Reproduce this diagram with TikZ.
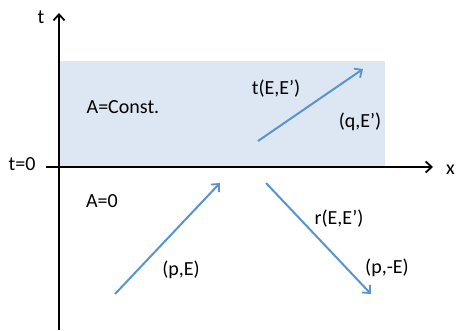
\documentclass[tikz,border=0pt]{standalone}
\usepackage{fontspec}
\setmainfont{Carlito}
\usetikzlibrary{arrows.meta}
\definecolor{arrblue}{RGB}{88,148,208}
\definecolor{bgblue}{RGB}{221,231,243}
\begin{document}
\begin{tikzpicture}[x=1pt,y=-1pt,
  axis/.style={line width=2pt,-{Straight Barb[length=6pt,width=11pt,line width=1.8pt]}},
  wave/.style={line width=2pt,arrblue,-{Straight Barb[length=6pt,width=11pt,line width=1.8pt]}},
  lbl/.style={font=\fontsize{20}{24}\selectfont,inner sep=0pt}]
\useasboundingbox (0,0) rectangle (457,330);
\fill[bgblue] (59,61) rectangle (385,167);
\coordinate (ob) at (59,330);
\coordinate (ot) at (59,13);
\coordinate (xl) at (46,167);
\coordinate (xr) at (433,167);
\draw[axis] (ob) -- (ot);
\draw[axis] (xl) -- (xr);
\node[lbl] (tlab) at (41,17) {t};
\node[lbl] (t0) at (22,164) {t=0};
\node[lbl,anchor=west] (xlab) at (446,170) {x};
\node[lbl] (aconst) at (123,107) {A=Const.};
\node[lbl] (azero) at (102,201) {A=0};
\coordinate (p1) at (115,294);
\coordinate (p2) at (220,183);
\coordinate (q1) at (258,141);
\coordinate (q2) at (363,69);
\coordinate (r1) at (266,183);
\coordinate (r2) at (371,294);
\draw[wave] (p1) -- (p2);
\draw[wave] (q1) -- (q2);
\draw[wave] (r1) -- (r2);
\node[lbl] (tee) at (276,89) {t(E,E’)};
\node[lbl] (qe) at (360,122) {(q,E’)};
\node[lbl] (pe) at (181,270) {(p,E)};
\node[lbl] (ree) at (339,219) {r(E,E’)};
\node[lbl] (pme) at (387,268) {(p,-E)};
\end{tikzpicture}
\end{document}
